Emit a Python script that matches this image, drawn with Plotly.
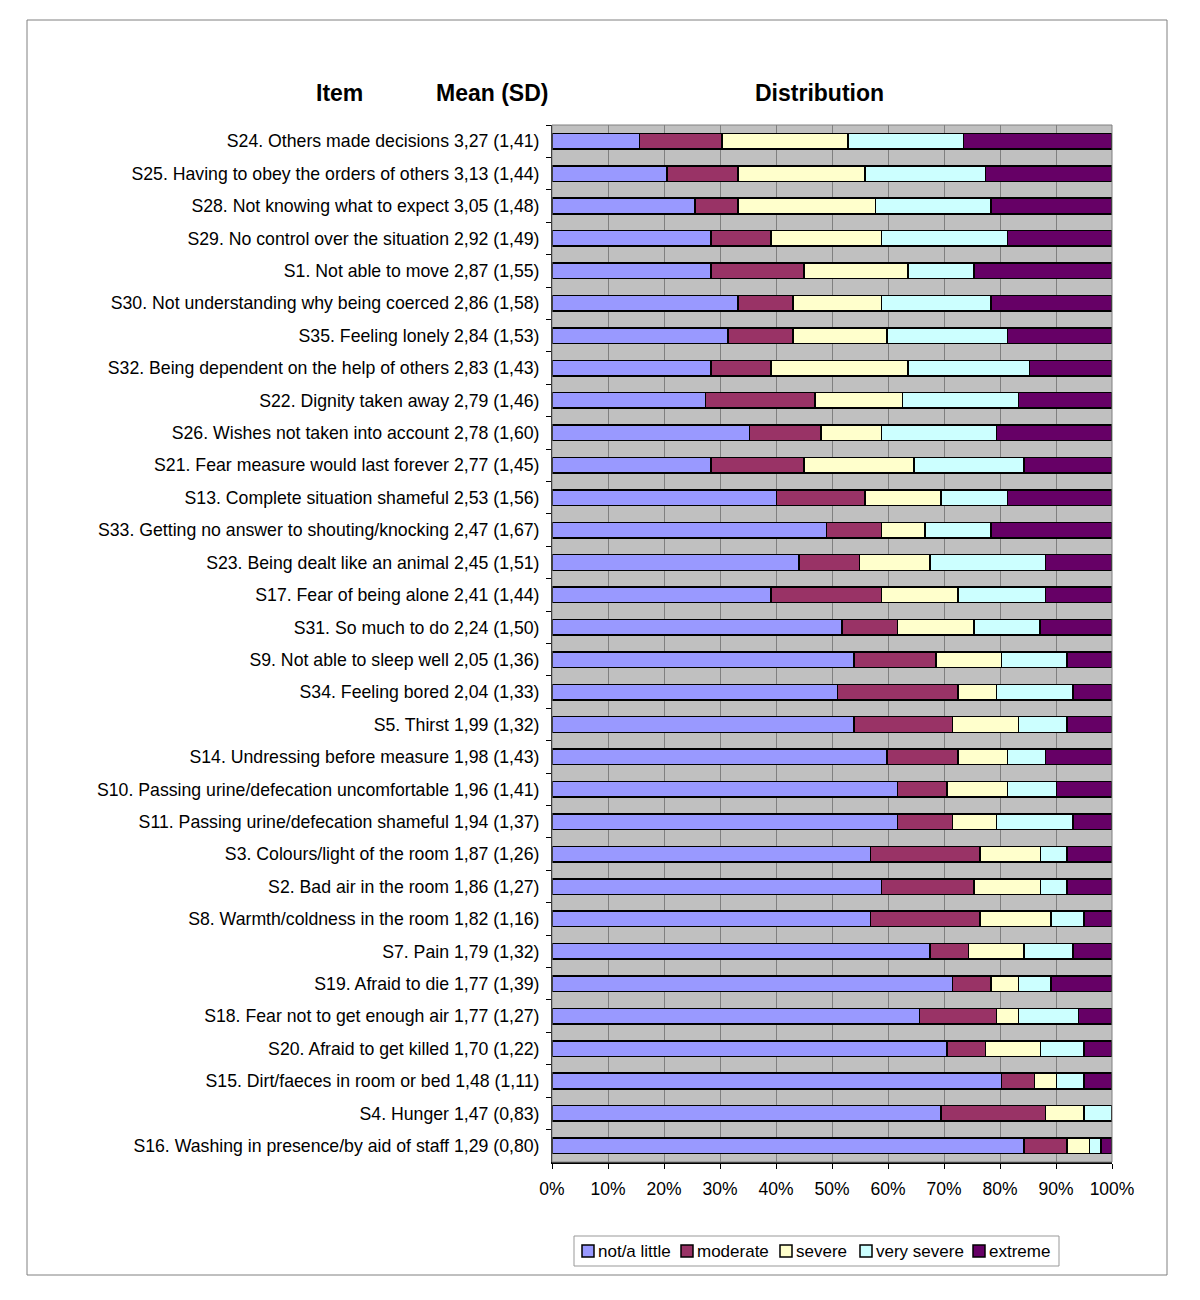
import plotly.graph_objects as go

items = [
    "S24. Others made decisions 3,27 (1,41)",
    "S25. Having to obey the orders of others 3,13 (1,44)",
    "S28. Not knowing what to expect 3,05 (1,48)",
    "S29. No control over the situation 2,92 (1,49)",
    "S1. Not able to move 2,87 (1,55)",
    "S30. Not understanding why being coerced 2,86 (1,58)",
    "S35. Feeling lonely 2,84 (1,53)",
    "S32. Being dependent on the help of others 2,83 (1,43)",
    "S22. Dignity taken away 2,79 (1,46)",
    "S26. Wishes not taken into account 2,78 (1,60)",
    "S21. Fear measure would last forever 2,77 (1,45)",
    "S13. Complete situation shameful 2,53 (1,56)",
    "S33. Getting no answer to shouting/knocking 2,47 (1,67)",
    "S23. Being dealt like an animal 2,45 (1,51)",
    "S17. Fear of being alone 2,41 (1,44)",
    "S31. So much to do 2,24 (1,50)",
    "S9. Not able to sleep well 2,05 (1,36)",
    "S34. Feeling bored 2,04 (1,33)",
    "S5. Thirst 1,99 (1,32)",
    "S14. Undressing before measure 1,98 (1,43)",
    "S10. Passing urine/defecation uncomfortable 1,96 (1,41)",
    "S11. Passing urine/defecation shameful 1,94 (1,37)",
    "S3. Colours/light of the room 1,87 (1,26)",
    "S2. Bad air in the room 1,86 (1,27)",
    "S8. Warmth/coldness in the room 1,82 (1,16)",
    "S7. Pain 1,79 (1,32)",
    "S19. Afraid to die 1,77 (1,39)",
    "S18. Fear not to get enough air 1,77 (1,27)",
    "S20. Afraid to get killed 1,70 (1,22)",
    "S15. Dirt/faeces in room or bed 1,48 (1,11)",
    "S4. Hunger 1,47 (0,83)",
    "S16. Washing in presence/by aid of staff 1,29 (0,80)",
]

# percentages per category (each row sums to ~100)
not_little = [15.6, 20.5, 25.5, 28.4, 28.4, 33.2, 31.4, 28.4, 27.4, 35.3, 28.4, 40.1,
              49.0, 44.1, 39.1, 51.8, 53.9, 51.0, 53.9, 59.8, 61.7, 61.7, 56.9, 58.8,
              56.9, 67.5, 71.5, 65.6, 70.5, 80.3, 69.5, 84.3]
moderate = [14.8, 12.7, 7.7, 10.7, 16.6, 9.8, 11.6, 10.7, 19.6, 12.7, 16.6, 15.8,
            9.8, 10.8, 19.7, 9.9, 14.7, 21.5, 17.6, 12.7, 8.8, 9.8, 19.5, 16.6,
            19.5, 6.9, 6.9, 13.8, 6.9, 5.9, 18.6, 7.7]
severe = [22.5, 22.7, 24.6, 19.7, 18.6, 15.8, 16.8, 24.5, 15.6, 10.8, 19.6, 13.6,
          7.8, 12.6, 13.7, 13.7, 11.7, 6.9, 11.8, 8.8, 10.8, 7.9, 10.8, 11.8,
          12.7, 9.9, 4.9, 3.9, 9.8, 3.9, 6.9, 4.0]
very_severe = [20.6, 21.5, 20.6, 22.5, 11.8, 19.6, 21.5, 21.7, 20.7, 20.6, 19.7, 11.8,
               11.8, 20.6, 15.6, 11.7, 11.7, 13.6, 8.7, 6.8, 8.8, 13.6, 4.8, 4.8,
               5.9, 8.7, 5.8, 10.7, 7.8, 4.9, 5.0, 2.0]
extreme = [26.5, 22.6, 21.6, 18.7, 24.6, 21.6, 18.7, 14.7, 16.7, 20.6, 15.7, 18.7,
           21.6, 11.9, 11.9, 12.9, 8.0, 7.0, 8.0, 11.9, 9.9, 7.0, 8.0, 8.0,
           5.0, 7.0, 10.9, 6.0, 5.0, 5.0, 0.0, 2.0]

series_names = ["not/a little", "moderate", "severe", "very severe", "extreme"]
series_values = [not_little, moderate, severe, very_severe, extreme]
series_colors = ["#9999FF", "#993366", "#FFFFCC", "#CCFFFF", "#660066"]

x_ticks = [i / 10 for i in range(11)]
x_ticktext = [f"{i*10}%" for i in range(11)]

fig = go.Figure()
for name, vals, col in zip(series_names, series_values, series_colors):
    fig.add_trace(go.Bar(
        y=items, x=[v / 100 for v in vals], name=name, orientation="h",
        marker=dict(color=col, line=dict(color="black", width=1.5)),
        width=0.48, showlegend=False,
    ))

# page is offset by 8px in the screenshot, so figure coords = target - 8
OFF = 8
L, R, T, B = 552 - OFF, 1112 - OFF, 125 - OFF, 1162 - OFF
W, H = 1200, 1300
pw, ph = R - L, B - T

def px(x):
    return (x - OFF - L) / pw

def py(y):
    return (B - (y - OFF)) / ph

font_family = "Liberation Sans, Arial, sans-serif"

shapes = [
    dict(type="rect", xref="paper", yref="paper",
         x0=px(27), x1=px(1167), y0=py(1275), y1=py(20),
         line=dict(color="#808080", width=1), fillcolor="rgba(0,0,0,0)", layer="below"),
    dict(type="rect", xref="paper", yref="paper",
         x0=0, x1=1, y0=0, y1=1,
         line=dict(color="#808080", width=1), fillcolor="rgba(0,0,0,0)"),
    # legend box
    dict(type="rect", xref="paper", yref="paper",
         x0=px(574), x1=px(1059), y0=py(1266), y1=py(1236),
         line=dict(color="#999999", width=1), fillcolor="white"),
]

annotations = [
    dict(text="<b>Item</b>", x=px(339), y=py(93), xref="paper", yref="paper",
         showarrow=False, xanchor="center", yanchor="middle", font=dict(size=23)),
    dict(text="<b>Mean (SD)</b>", x=px(492), y=py(93), xref="paper", yref="paper",
         showarrow=False, xanchor="center", yanchor="middle", font=dict(size=23)),
    dict(text="<b>Distribution</b>", x=px(819), y=py(93), xref="paper", yref="paper",
         showarrow=False, xanchor="center", yanchor="middle", font=dict(size=23)),
]

# legend entries (icon left edge, text left edge)
legend_icon_x = [582, 681, 780, 860, 973]
legend_text_x = [596, 695, 794, 874, 987]
for name, col, ix, tx in zip(series_names, series_colors, legend_icon_x, legend_text_x):
    shapes.append(dict(type="rect", xref="paper", yref="paper",
                       x0=px(ix), x1=px(ix + 12), y0=py(1257), y1=py(1245),
                       line=dict(color="black", width=1.5), fillcolor=col))
    annotations.append(dict(text=name, x=px(tx), y=py(1251), xref="paper", yref="paper",
                            showarrow=False, xanchor="left", yanchor="middle",
                            font=dict(size=17), xshift=0))

fig.update_layout(
    width=W, height=H,
    margin=dict(l=L, r=W - R, t=T, b=H - B, autoexpand=False),
    barmode="stack",
    paper_bgcolor="white",
    plot_bgcolor="#C0C0C0",
    font=dict(family=font_family, size=17.7, color="black"),
    showlegend=False,
    xaxis=dict(
        range=[0, 1], tickvals=x_ticks, ticktext=x_ticktext,
        showgrid=True, gridcolor="#808080", gridwidth=1,
        ticks="outside", ticklen=5, tickcolor="black",
        showline=True, linecolor="black", linewidth=1.5,
        tickfont=dict(size=17.5), zeroline=False, fixedrange=True,
        ticklabelstandoff=5,
    ),
    yaxis=dict(
        autorange="reversed", type="category",
        tickson="boundaries", ticks="outside", ticklen=5, tickcolor="black",
        showline=True, linecolor="black", linewidth=1,
        showgrid=False, tickfont=dict(size=17.7), ticklabelstandoff=8,
    ),
    shapes=shapes,
    annotations=annotations,
)

fig.write_html("out.html")
